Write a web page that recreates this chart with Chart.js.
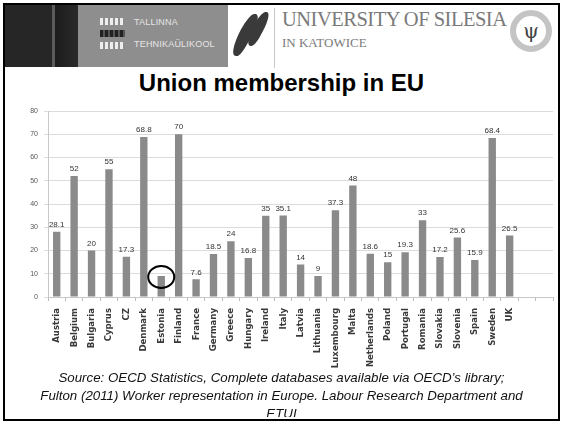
<!DOCTYPE html>
<html>
<head>
<meta charset="utf-8">
<script src="https://cdn.jsdelivr.net/npm/chart.js@4"></script>
<style>
  body { margin:0; width:563px; height:426px; background:#fff; position:relative; overflow:hidden; font-family:"Liberation Sans", Arial, sans-serif; }
  .frame { position:absolute; left:3px; top:3px; width:553px; height:414px; border:2px solid #000; }
  .hdr-dark1 { position:absolute; left:5px; top:5px; width:47px; height:62px; background:#262626; }
  .hdr-line { position:absolute; left:52px; top:5px; width:3px; height:62px; background:#5a5a5a; }
  .hdr-dark2 { position:absolute; left:55px; top:5px; width:23px; height:62px; background:linear-gradient(90deg,#1c1c1c,#2a2a2a); }
  .hdr-grey { position:absolute; left:78px; top:5px; width:150px; height:62px; background:#8e8e8e; }
  .sq { position:absolute; left:100px; width:25px; height:7px; background:repeating-linear-gradient(90deg,#eee 0 3px,#8e8e8e 3px 5px); }
  .sq.dk { background:repeating-linear-gradient(90deg,#222 0 3px,#555 3px 5px); }
  .tt { position:absolute; left:134px; color:#e6e6e6; font-size:9px; letter-spacing:0.2px; }
  .sw { position:absolute; background:#3a3a3a; border-radius:40% 60% 30% 70%; transform:skewX(-28deg); }
  .vline { position:absolute; left:274px; top:8px; width:1px; height:60px; background:#c8c8c8; }
  .uni { position:absolute; left:282px; top:8px; font-family:"Liberation Serif", serif; font-size:20.5px; color:#7a7a7a; letter-spacing:-0.5px; }
  .kat { position:absolute; left:282px; top:35px; font-family:"Liberation Serif", serif; font-size:13px; color:#7a7a7a; }
  .seal { position:absolute; left:510px; top:10px; width:30px; height:30px; border:6px solid #c4c4c4; border-radius:50%; text-align:center; line-height:30px; font-size:20px; color:#444; font-family:"DejaVu Serif", serif; }
  .title { position:absolute; left:0; width:563px; top:69px; text-align:center; font-weight:bold; font-size:24px; color:#000; }
  .chart { position:absolute; left:0; top:100px; width:563px; height:275px; }
  .src { position:absolute; left:0; width:563px; top:369px; text-align:center; font-style:italic; font-size:13.3px; line-height:18px; color:#111; height:48px; overflow:hidden; }
</style>
</head>
<body>
<div class="hdr-dark1"></div>
<div class="hdr-line"></div>
<div class="hdr-dark2"></div>
<div class="hdr-grey"></div>
<div class="sq" style="top:18px"></div>
<div class="sq dk" style="top:30px"></div>
<div class="sq" style="top:42px"></div>
<div class="tt" style="top:17px">TALLINNA</div>
<div class="tt" style="top:39px">TEHNIKAÜLIKOOL</div>
<div class="sw" style="left:238px; top:14px; width:14px; height:42px;"></div>
<div class="sw" style="left:252px; top:12px; width:12px; height:34px;"></div>
<div class="vline"></div>
<div class="uni">UNIVERSITY OF SILESIA</div>
<div class="kat">IN KATOWICE</div>
<div class="seal">ψ</div>
<div class="title">Union membership in EU</div>
<div class="chart"><canvas id="c" width="563" height="275"></canvas></div>
<div class="src">Source: OECD Statistics, Complete databases available via OECD’s library;<br>Fulton (2011) Worker representation in Europe. Labour Research Department and<br>ETUI</div>
<div class="frame"></div>
<script>
const countries = ['Austria','Belgium','Bulgaria','Cyprus','CZ','Denmark','Estonia','Finland','France','Germany','Greece','Hungary','Ireland','Italy','Latvia','Lithuania','Luxembourg','Malta','Netherlands','Poland','Portugal','Romania','Slovakia','Slovenia','Spain','Sweden','UK','',''];
const membership = [28.1,52,20,55,17.3,68.8,9,70,7.6,18.5,24,16.8,35,35.1,14,9,37.3,48,18.6,15,19.3,33,17.2,25.6,15.9,68.4,26.5,null,null];
const yTicks = [0,10,20,30,40,50,60,70,80];
const circled = 'Estonia';

const barLabels = {
  id: 'barLabels',
  afterDatasetsDraw(chart){
    const ctx = chart.ctx;
    const meta = chart.getDatasetMeta(0);
    ctx.save();
    ctx.font = '8px "Liberation Sans", Arial';
    ctx.fillStyle = '#333';
    ctx.textAlign = 'center';
    ctx.textBaseline = 'bottom';
    meta.data.forEach((bar, i) => {
      const v = membership[i];
      if (v == null) return;
      if (countries[i] === circled) {
        ctx.strokeStyle = '#000';
        ctx.lineWidth = 2;
        ctx.beginPath();
        ctx.ellipse(bar.x, bar.y + 1, 13, 11, 0, 0, Math.PI * 2);
        ctx.stroke();
        return;
      }
      ctx.fillText(String(v), bar.x, bar.y - 3);
    });
    ctx.restore();
  }
};

new Chart(document.getElementById('c').getContext('2d'), {
  type: 'bar',
  data: {
    labels: countries,
    datasets: [{
      data: membership,
      backgroundColor: '#8a8a8a',
      barPercentage: 0.47,
      categoryPercentage: 0.9
    }]
  },
  options: {
    responsive: false,
    animation: false,
    layout: { padding: { top: 11, right: 6, left: 0, bottom: 0 } },
    plugins: { legend: { display: false }, tooltip: { enabled: false } },
    scales: {
      x: {
        grid: { drawOnChartArea: false, color: '#bbb', tickLength: 4, offset: true },
        border: { color: '#c8c8c8' },
        ticks: { autoSkip: false, minRotation: 90, maxRotation: 90, color: '#3a3a3a', padding: 7,
                 font: { size: 9.5, weight: 'bold', family: '"DejaVu Sans Condensed", "Liberation Sans", sans-serif' } },
        afterFit: s => { s.height = 78; }
      },
      y: {
        min: 0, max: 80,
        afterBuildTicks: s => { s.ticks = yTicks.map(v => ({ value: v })); },
        grid: { color: '#dcdcdc', tickLength: 4 },
        border: { color: '#c8c8c8' },
        ticks: { color: '#555', padding: 6, font: { size: 7, family: '"Liberation Sans", Arial' } },
        afterFit: s => { s.width = 48; }
      }
    }
  },
  plugins: [barLabels]
});
</script>
</body>
</html>
